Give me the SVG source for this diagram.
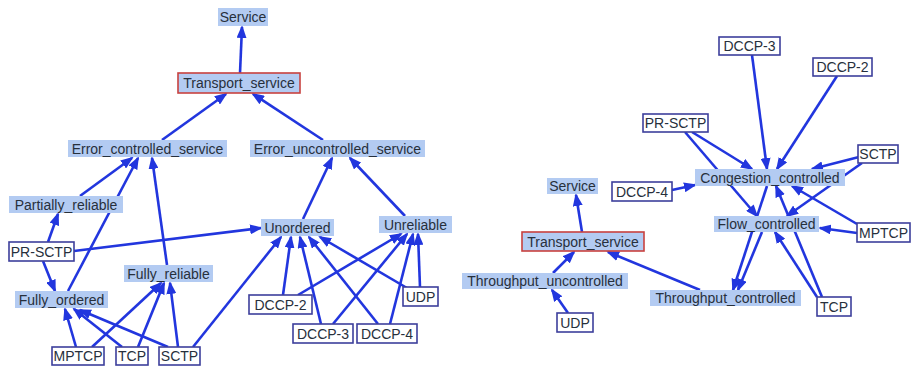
<svg xmlns="http://www.w3.org/2000/svg" width="911" height="370" viewBox="0 0 911 370">
<style>
.bg{fill:#ffffff}
.e line{stroke:#2236de;stroke-width:2.6;fill:none;marker-end:url(#ah)}
.cls rect{fill:#b3cbf2}
.inst rect{fill:#ffffff;stroke:#3d3f9c;stroke-width:1.6}
.top rect{fill:#b3cbf2;stroke:#c8413f;stroke-width:1.6}
text{font-family:"Liberation Sans",Arial,sans-serif;font-size:14px;fill:#27303c;text-anchor:middle}
</style>
<defs>
<marker id="ah" markerUnits="userSpaceOnUse" markerWidth="13" markerHeight="10" refX="11" refY="5" orient="auto">
<path d="M0,0 L13,5 L0,10 z" fill="#2236de"/>
</marker>
</defs>
<rect class="bg" x="0" y="0" width="911" height="370"/>
<g id="connectors" class="e">
<line x1="240" y1="73" x2="242" y2="27"/>
<line x1="162" y1="140" x2="226" y2="94"/>
<line x1="323" y1="140" x2="253" y2="94"/>
<line x1="80" y1="196" x2="132" y2="158"/>
<line x1="68" y1="291" x2="138" y2="158"/>
<line x1="167" y1="265" x2="152" y2="158"/>
<line x1="303" y1="219" x2="332" y2="158"/>
<line x1="405" y1="216" x2="350" y2="158"/>
<line x1="48" y1="242" x2="58" y2="214"/>
<line x1="43" y1="261" x2="55" y2="291"/>
<line x1="74" y1="251" x2="261" y2="228"/>
<line x1="76" y1="347" x2="65" y2="309"/>
<line x1="122" y1="347" x2="74" y2="309"/>
<line x1="168" y1="347" x2="80" y2="310"/>
<line x1="92" y1="347" x2="161" y2="283"/>
<line x1="138" y1="347" x2="164" y2="283"/>
<line x1="178" y1="347" x2="170" y2="283"/>
<line x1="193" y1="347" x2="281" y2="237"/>
<line x1="283" y1="295" x2="291" y2="237"/>
<line x1="321" y1="324" x2="300" y2="237"/>
<line x1="378" y1="324" x2="309" y2="237"/>
<line x1="407" y1="288" x2="320" y2="237"/>
<line x1="298" y1="295" x2="401" y2="234"/>
<line x1="333" y1="324" x2="407" y2="234"/>
<line x1="390" y1="324" x2="413" y2="234"/>
<line x1="420" y1="287" x2="418" y2="234"/>
<line x1="582" y1="232" x2="576" y2="195"/>
<line x1="553" y1="273" x2="574" y2="252"/>
<line x1="700" y1="290" x2="608" y2="252"/>
<line x1="568" y1="313" x2="552" y2="290"/>
<line x1="752" y1="55" x2="767" y2="169"/>
<line x1="837" y1="76" x2="777" y2="169"/>
<line x1="692" y1="132" x2="752" y2="169"/>
<line x1="685" y1="132" x2="757" y2="216"/>
<line x1="859" y1="157" x2="812" y2="169"/>
<line x1="862" y1="163" x2="787" y2="216"/>
<line x1="672" y1="190" x2="695" y2="185"/>
<line x1="767" y1="186" x2="733" y2="290"/>
<line x1="762" y1="232" x2="738" y2="290"/>
<line x1="822" y1="297" x2="776" y2="186"/>
<line x1="817" y1="297" x2="775" y2="232"/>
<line x1="857" y1="224" x2="792" y2="186"/>
<line x1="857" y1="233" x2="820" y2="228"/>
</g>
<g id="L_Service" class="cls"><rect x="218" y="8" width="50" height="18"/><text x="243" y="22">Service</text></g>
<g id="L_Transport_service" class="top"><rect x="178" y="73" width="122" height="20"/><text x="239" y="88">Transport_service</text></g>
<g id="L_Error_controlled_service" class="cls"><rect x="68" y="140" width="159" height="17"/><text x="147.5" y="153.5">Error_controlled_service</text></g>
<g id="L_Error_uncontrolled_service" class="cls"><rect x="250" y="140" width="175" height="17"/><text x="337.5" y="153.5">Error_uncontrolled_service</text></g>
<g id="L_Partially_reliable" class="cls"><rect x="9" y="196" width="114" height="17"/><text x="66" y="209.5">Partially_reliable</text></g>
<g id="L_PR-SCTP" class="inst"><rect x="9" y="242" width="65" height="19"/><text x="41.5" y="256.5">PR-SCTP</text></g>
<g id="L_Fully_ordered" class="cls"><rect x="15" y="291" width="93" height="17"/><text x="61.5" y="304.5">Fully_ordered</text></g>
<g id="L_Fully_reliable" class="cls"><rect x="124" y="265" width="89" height="17"/><text x="168.5" y="278.5">Fully_reliable</text></g>
<g id="L_MPTCP" class="inst"><rect x="52" y="347" width="52" height="18"/><text x="78" y="361">MPTCP</text></g>
<g id="L_TCP" class="inst"><rect x="116" y="347" width="32" height="18"/><text x="132" y="361">TCP</text></g>
<g id="L_SCTP" class="inst"><rect x="159" y="347" width="41" height="18"/><text x="179.5" y="361">SCTP</text></g>
<g id="L_Unordered" class="cls"><rect x="261" y="219" width="73" height="17"/><text x="297.5" y="232.5">Unordered</text></g>
<g id="L_Unreliable" class="cls"><rect x="379" y="216" width="73" height="17"/><text x="415.5" y="229.5">Unreliable</text></g>
<g id="L_DCCP-2" class="inst"><rect x="249" y="295" width="63" height="19"/><text x="280.5" y="309.5">DCCP-2</text></g>
<g id="L_DCCP-3" class="inst"><rect x="293" y="324" width="60" height="19"/><text x="323" y="338.5">DCCP-3</text></g>
<g id="L_DCCP-4" class="inst"><rect x="357" y="324" width="60" height="19"/><text x="387" y="338.5">DCCP-4</text></g>
<g id="L_UDP" class="inst"><rect x="403" y="287" width="35" height="19"/><text x="420.5" y="301.5">UDP</text></g>
<g id="R_DCCP-3" class="inst"><rect x="719" y="37" width="61" height="18"/><text x="749.5" y="51">DCCP-3</text></g>
<g id="R_DCCP-2" class="inst"><rect x="813" y="58" width="59" height="18"/><text x="842.5" y="72">DCCP-2</text></g>
<g id="R_PR-SCTP" class="inst"><rect x="643" y="114" width="65" height="18"/><text x="675.5" y="128">PR-SCTP</text></g>
<g id="R_SCTP" class="inst"><rect x="858" y="145" width="40" height="18"/><text x="878" y="159">SCTP</text></g>
<g id="R_Congestion_controlled" class="cls"><rect x="695" y="169" width="150" height="17"/><text x="770" y="182.5">Congestion_controlled</text></g>
<g id="R_DCCP-4" class="inst"><rect x="612" y="182" width="60" height="19"/><text x="642" y="196.5">DCCP-4</text></g>
<g id="R_Service" class="cls"><rect x="547" y="178" width="51" height="16"/><text x="572.5" y="191">Service</text></g>
<g id="R_Flow_controlled" class="cls"><rect x="714" y="216" width="105" height="16"/><text x="766.5" y="229">Flow_controlled</text></g>
<g id="R_MPTCP" class="inst"><rect x="857" y="223" width="53" height="19"/><text x="883.5" y="237.5">MPTCP</text></g>
<g id="R_Transport_service" class="top"><rect x="522" y="232" width="122" height="19"/><text x="583" y="246.5">Transport_service</text></g>
<g id="R_Throughput_uncontrolled" class="cls"><rect x="462" y="273" width="166" height="16"/><text x="545" y="286">Throughput_uncontrolled</text></g>
<g id="R_Throughput_controlled" class="cls"><rect x="650" y="290" width="151" height="16"/><text x="725.5" y="303">Throughput_controlled</text></g>
<g id="R_TCP" class="inst"><rect x="817" y="297" width="34" height="19"/><text x="834" y="311.5">TCP</text></g>
<g id="R_UDP" class="inst"><rect x="557" y="313" width="36" height="19"/><text x="575" y="327.5">UDP</text></g>
</svg>
